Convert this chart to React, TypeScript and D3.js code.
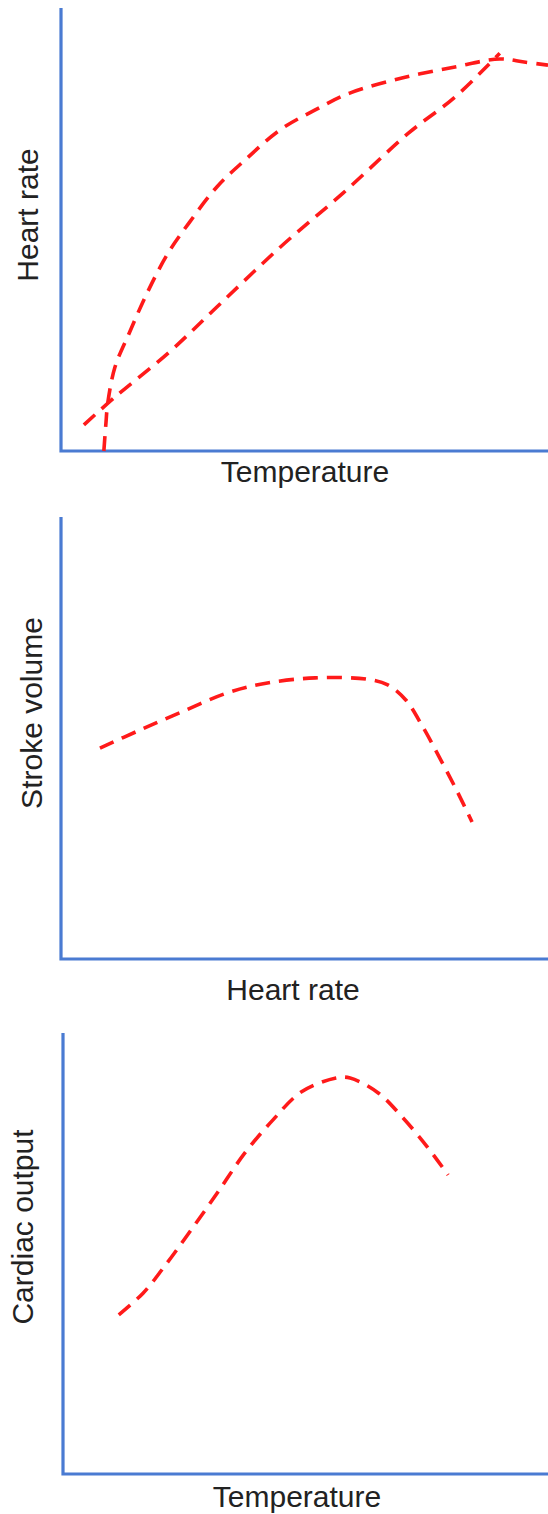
import React from "react";
import * as d3 from "d3";

// Panel 1: Heart rate vs Temperature (two curves)
const hrTempSteep: [number, number][] = [
  [8.8, 0], [9.2, 5.9], [9.6, 10.8], [11.1, 19.0], [14.0, 26.6], [17.7, 35.7],
  [22.0, 44.7], [26.3, 51.5], [32.0, 59.6], [37.8, 65.7], [45.0, 72.5],
  [52.2, 77.0], [59.3, 80.8], [70.0, 84.2], [80.9, 86.7], [90.1, 88.5],
  [95.1, 87.8], [100, 87.1],
];
const hrTempLinear: [number, number][] = [
  [4.7, 5.9], [11.1, 12.2], [22.0, 22.1], [32.0, 32.5], [45.0, 46.0],
  [57.9, 58.2], [71.4, 71.8], [80.9, 79.9], [90.1, 89.8],
];
// Panel 2: Stroke volume vs Heart rate
const svHr: [number, number][] = [
  [8.0, 47.7], [16.2, 51.8], [24.8, 55.9], [34.1, 60.2], [42.1, 62.4],
  [52.2, 63.6], [62.8, 63.3], [67.1, 62.0], [70.8, 58.6], [74.3, 52.5],
  [78.0, 45.0], [81.5, 37.6], [84.4, 31.0],
];
// Panel 3: Cardiac output vs Temperature
const coTemp: [number, number][] = [
  [11.5, 36.1], [16.5, 41.0], [20.8, 46.9], [26.0, 54.7], [31.8, 63.7],
  [37.5, 72.8], [43.3, 80.3], [49.1, 86.6], [56.3, 89.8], [59.2, 89.8],
  [65.0, 86.4], [69.9, 81.0], [75.1, 74.2], [79.4, 67.8],
];

const xLabels = ["Temperature", "Heart rate", "Temperature"];
const yLabels = ["Heart rate", "Stroke volume", "Cardiac output"];

type Panel = {
  left: number; top: number; bottom: number; right: number;
  xLabelX: number; xLabelY: number; yLabelX: number; yLabelY: number;
  series: [number, number][][];
};

const panels: Panel[] = [
  { left: 61, top: 8, bottom: 451, right: 548, xLabelX: 305, xLabelY: 482, yLabelX: 38, yLabelY: 215, series: [hrTempSteep, hrTempLinear] },
  { left: 61, top: 517, bottom: 959, right: 548, xLabelX: 293, xLabelY: 1000, yLabelX: 42, yLabelY: 713, series: [svHr] },
  { left: 63, top: 1033, bottom: 1474, right: 548, xLabelX: 297, xLabelY: 1507, yLabelX: 33, yLabelY: 1227, series: [coTemp] },
];

const AXIS = "#4a7bd2";
const RED = "#ff1a1a";
const FONT = "Liberation Sans, Arial, sans-serif";

export default function App() {
  return (
    <svg width={548} height={1514} style={{ position: "absolute", left: 0, top: 0, background: "#fff" }}>
      {panels.map((p, i) => {
        const x = d3.scaleLinear().domain([0, 100]).range([p.left, p.right]);
        const y = d3.scaleLinear().domain([0, 100]).range([p.bottom, p.top]);
        const line = d3.line<[number, number]>()
          .x((d) => x(d[0]))
          .y((d) => y(d[1]))
          .curve(d3.curveCatmullRom.alpha(0.5));
        return (
          <g key={i}>
            <path d={`M${x(0)},${y(100)}V${y(0)}H${x(100)}`} fill="none" stroke={AXIS} strokeWidth={3.2} />
            {p.series.map((s, j) => (
              <path key={j} d={line(s) || ""} fill="none" stroke={RED} strokeWidth={3.6} strokeDasharray="15 9" />
            ))}
            <text x={p.xLabelX} y={p.xLabelY} textAnchor="middle" fontFamily={FONT} fontSize={30} fill="#222">{xLabels[i]}</text>
            <text transform={`translate(${p.yLabelX},${p.yLabelY}) rotate(-90)`} textAnchor="middle" fontFamily={FONT} fontSize={30} fill="#222">{yLabels[i]}</text>
          </g>
        );
      })}
    </svg>
  );
}
